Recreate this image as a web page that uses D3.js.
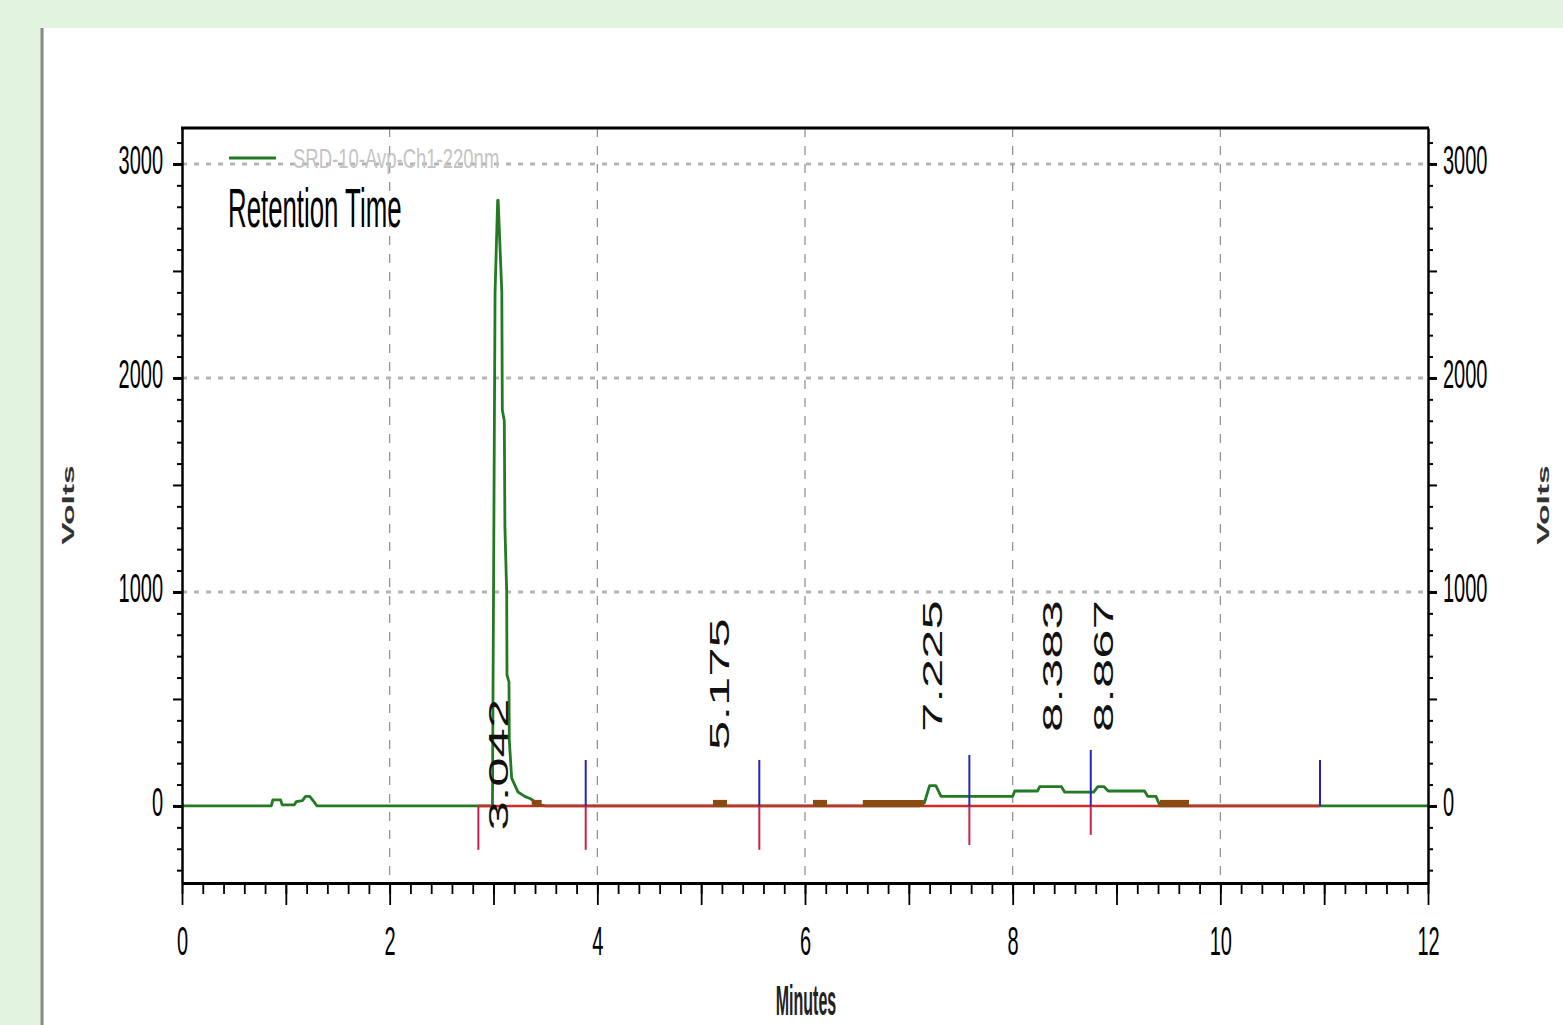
<!DOCTYPE html>
<html>
<head>
<meta charset="utf-8">
<script src="https://cdn.jsdelivr.net/npm/d3@7"></script>
<style>
  body { margin: 0; background: #e2f3df; }
  svg { display: block; font-family: "Liberation Sans", Arial, sans-serif; }
</style>
</head>
<body>
<script>
// chromatogram trace (minutes, volts)
const traceTime = [0, 0.86, 0.875, 0.95, 0.965, 1.08, 1.10, 1.16, 1.19, 1.23, 1.27, 1.30,
    2.99, 2.995, 3.015, 3.04, 3.045, 3.08, 3.085, 3.104, 3.11, 3.127, 3.13, 3.149, 3.152,
    3.175, 3.236, 3.30, 3.352, 3.40, 3.45, 3.5,
    7.10, 7.15, 7.20, 7.26, 7.31, 8.00, 8.02, 8.24, 8.26, 8.47, 8.50, 8.78, 8.82, 8.88,
    8.92, 9.27, 9.30, 9.38, 9.42, 12];
const traceVolts = [0, 0, 28, 28, 5, 5, 20, 25, 45, 45, 20, 0,
    0, 500, 2400, 2830, 2830, 2400, 1850, 1800, 1300, 1000, 612, 580, 308,
    130, 65, 45, 35, 20, 5, 0,
    0, 15, 95, 95, 45, 45, 70, 70, 90, 90, 65, 65, 90, 90,
    70, 70, 45, 45, 0, 0];

// integration baseline and events
const baselineStart = 2.854;
const baselineEnd = 10.96;
const noiseStart = [3.368, 5.114, 6.077, 6.557, 9.419];
const noiseEnd = [3.464, 5.249, 6.212, 7.145, 9.698];
const eventTimes = [3.888, 5.56, 7.583, 8.752, 10.96];
const eventTop = [215, 215, 238, 262, 215];
const eventBottom = [-205, -205, -182, -135, null];

// peak labels
const peakTimes = [3.042, 5.175, 7.225, 8.383, 8.867];
const peakLabels = ["3.042", "5.175", "7.225", "8.383", "8.867"];
const labelBase = [-115, 262, 346, 346, 346];

const xMajor = d3.range(0, 13, 1);
const xMinor = d3.range(0, 12.01, 0.2);
const yTicks = d3.range(-300, 3101, 100);
const yLabels = [0, 1000, 2000, 3000];
const xLabels = [0, 2, 4, 6, 8, 10, 12];

const W = 1563, H = 1025;
const frame = { left: 182, right: 1428, top: 128, bottom: 883 };

const svg = d3.select("body").append("svg")
    .attr("width", W)
    .attr("height", H);

// page panel
svg.append("rect").attr("x", 44).attr("y", 28).attr("width", W - 44).attr("height", H - 28).attr("fill", "#fff");
svg.append("line").attr("x1", 42).attr("x2", 42).attr("y1", 28).attr("y2", H)
    .attr("stroke", "#8a8a86").attr("stroke-width", 3);

const x = d3.scaleLinear().domain([0, 12]).range([frame.left, frame.right]);
const y = d3.scaleLinear().domain([-360, 3168]).range([frame.bottom, frame.top]);

// grid
svg.append("g").selectAll("line")
    .data([1000, 2000, 3000])
    .enter().append("line")
    .attr("x1", frame.left).attr("x2", frame.right)
    .attr("y1", d => y(d)).attr("y2", d => y(d))
    .attr("stroke", "#b4b4b4").attr("stroke-width", 3).attr("stroke-dasharray", "5,7");
svg.append("g").selectAll("line")
    .data([2, 4, 6, 8, 10])
    .enter().append("line")
    .attr("x1", d => x(d)).attr("x2", d => x(d))
    .attr("y1", frame.top).attr("y2", frame.bottom)
    .attr("stroke", "#8c8c8c").attr("stroke-width", 1.2).attr("stroke-dasharray", "9,9");

// trace
const trace = traceTime.map((t, i) => [t, traceVolts[i]]);
svg.append("path")
    .datum(trace)
    .attr("fill", "none")
    .attr("stroke", "#237a23")
    .attr("stroke-width", 2.8)
    .attr("stroke-linejoin", "round")
    .attr("d", d3.line().x(d => x(d[0])).y(d => y(d[1])));

// baseline
svg.append("line")
    .attr("x1", x(baselineStart)).attr("x2", x(baselineEnd))
    .attr("y1", y(0)).attr("y2", y(0))
    .attr("stroke", "#d22a2a").attr("stroke-width", 2.5);

svg.append("g").selectAll("line")
    .data(noiseStart)
    .enter().append("line")
    .attr("x1", d => x(d)).attr("x2", (d, i) => x(noiseEnd[i]))
    .attr("y1", y(12)).attr("y2", y(12))
    .attr("stroke", "#8a4a12").attr("stroke-width", 7);

// event markers
svg.append("line")
    .attr("x1", x(baselineStart)).attr("x2", x(baselineStart))
    .attr("y1", y(0)).attr("y2", y(-205))
    .attr("stroke", "#d0204a").attr("stroke-width", 2);
svg.append("g").selectAll("line")
    .data(eventTimes)
    .enter().append("line")
    .attr("x1", d => x(d)).attr("x2", d => x(d))
    .attr("y1", (d, i) => y(eventTop[i])).attr("y2", y(0))
    .attr("stroke", "#2222c4").attr("stroke-width", 2);
svg.append("g").selectAll("line")
    .data(eventTimes.filter((d, i) => eventBottom[i] !== null))
    .enter().append("line")
    .attr("x1", d => x(d)).attr("x2", d => x(d))
    .attr("y1", y(0)).attr("y2", (d, i) => y(eventBottom[i]))
    .attr("stroke", "#d0204a").attr("stroke-width", 2);

// peak labels
svg.append("g").selectAll("text")
    .data(peakLabels)
    .enter().append("text")
    .attr("transform", (d, i) => `translate(${x(peakTimes[i]) + 10},${y(labelBase[i])}) rotate(-90) scale(1.95,1)`)
    .attr("font-size", 27)
    .attr("fill", "#111")
    .text(d => d);

// axes
const axisStyle = (g, w) => {
    g.select(".domain").attr("stroke", "#000").attr("stroke-width", w);
    g.selectAll(".tick line").attr("stroke", "#000").attr("stroke-width", 1.8);
};

svg.append("g")
    .attr("transform", `translate(0,${frame.bottom})`)
    .call(d3.axisBottom(x).tickValues(xMinor).tickSize(11).tickSizeOuter(0).tickFormat(""))
    .call(g => axisStyle(g, 3));
svg.append("g")
    .attr("transform", `translate(0,${frame.bottom})`)
    .call(d3.axisBottom(x).tickValues(xMajor).tickSize(22).tickSizeOuter(0)
        .tickFormat(d => xLabels.includes(d) ? d : ""))
    .call(g => axisStyle(g, 3))
    .call(g => g.selectAll("text")
        .attr("y", 0).attr("dy", 0)
        .attr("transform", "translate(0,72) scale(1,2.05)")
        .attr("font-size", 20).attr("fill", "#000"));

const yAxis = (axis, dx, anchor) => g => {
    g.call(axis.tickValues(yTicks).tickSize(0).tickSizeOuter(0)
        .tickFormat(d => yLabels.includes(d) ? d : ""));
    g.selectAll(".tick line")
        .attr("x2", d => (d % 500 === 0 ? 9 : 5) * Math.sign(dx))
        .attr("stroke", "#000")
        .attr("stroke-width", d => d % 1000 === 0 ? 3 : 2);
    g.select(".domain").attr("stroke", "#000").attr("stroke-width", 2.5);
    g.selectAll("text")
        .attr("x", 0).attr("dy", 0)
        .attr("text-anchor", anchor)
        .attr("transform", `translate(${dx},10) scale(1,2.05)`)
        .attr("font-size", 20).attr("fill", "#000");
};

svg.append("g")
    .attr("transform", `translate(${frame.left},0)`)
    .call(yAxis(d3.axisLeft(y), -19, "end"));
svg.append("g")
    .attr("transform", `translate(${frame.right},0)`)
    .call(yAxis(d3.axisRight(y), 15, "start"));

// top border
svg.append("line")
    .attr("x1", frame.left - 1).attr("x2", frame.right + 1)
    .attr("y1", frame.top).attr("y2", frame.top)
    .attr("stroke", "#000").attr("stroke-width", 3);

// legend
svg.append("line")
    .attr("x1", 229).attr("x2", 276).attr("y1", 158).attr("y2", 158)
    .attr("stroke", "#237a23").attr("stroke-width", 3);
svg.append("text")
    .attr("transform", "translate(293,168) scale(1,1.5)")
    .attr("font-size", 18.5).attr("fill", "#c4c4c4")
    .text("SRD-10-Avp-Ch1-220nm");
svg.append("text")
    .attr("transform", "translate(228,227) scale(1,2.15)")
    .attr("font-size", 25.8).attr("fill", "#000")
    .text("Retention Time");

// axis titles
svg.append("text")
    .attr("transform", "translate(806,1015) scale(1,2.6)")
    .attr("text-anchor", "middle")
    .attr("font-size", 16).attr("font-weight", "bold").attr("fill", "#222")
    .text("Minutes");
[74, 1549].forEach(px => {
    svg.append("text")
        .attr("transform", `translate(${px},505) rotate(-90) scale(2.1,1)`)
        .attr("text-anchor", "middle")
        .attr("font-size", 16).attr("font-weight", "bold").attr("fill", "#333")
        .text("Volts");
});
</script>
</body>
</html>
